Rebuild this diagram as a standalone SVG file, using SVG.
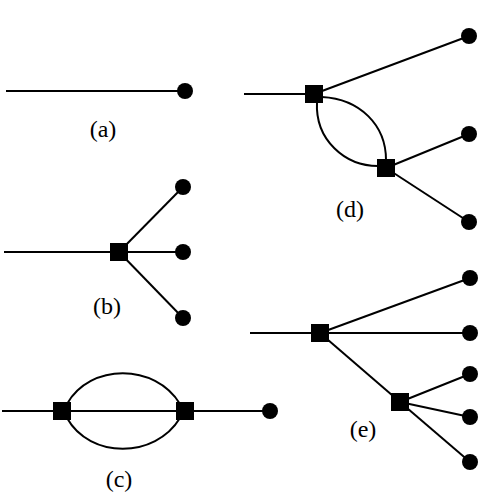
<svg xmlns="http://www.w3.org/2000/svg" width="484" height="499" viewBox="0 0 484 499">
<style>
.e{stroke:#000;stroke-width:2;fill:none}
.d{fill:#000}
.s{fill:#000}
.t{font-family:"Liberation Serif",serif;font-size:24px;fill:#000;text-anchor:middle}
</style>
<rect width="484" height="499" fill="#fff"/>
<g id="connectors">
<line class="e" x1="6" y1="91" x2="185" y2="91"/>
<line class="e" x1="4" y1="252" x2="183" y2="252"/>
<line class="e" x1="119" y1="252" x2="183" y2="187"/>
<line class="e" x1="119" y1="252" x2="183" y2="318"/>
<line class="e" x1="2" y1="411" x2="270" y2="411"/>
<path class="e" d="M67,404 C90,363 155,363 180,404"/>
<path class="e" d="M67,418 C90,459 155,459 180,418"/>
<line class="e" x1="244" y1="94" x2="314" y2="94"/>
<line class="e" x1="314" y1="94" x2="469" y2="36"/>
<path class="e" d="M322,97 C360,99 386,125 386,160"/>
<path class="e" d="M317,102 C315,140 345,166 378,166"/>
<line class="e" x1="386" y1="168" x2="469" y2="134"/>
<line class="e" x1="386" y1="168" x2="469" y2="222"/>
<line class="e" x1="250" y1="333" x2="470" y2="333"/>
<line class="e" x1="320" y1="333" x2="470" y2="278"/>
<line class="e" x1="320" y1="333" x2="400" y2="402"/>
<line class="e" x1="400" y1="402" x2="470" y2="374"/>
<line class="e" x1="400" y1="402" x2="470" y2="417"/>
<line class="e" x1="400" y1="402" x2="470" y2="462"/>
</g>
<g id="a">
<circle id="a-dot" class="d" cx="185" cy="91" r="8"/>
<text class="t" x="103" y="137">(a)</text>
</g>
<g id="b">
<rect id="b-sq" class="s" x="110" y="243" width="18" height="18"/>
<circle class="d" cx="183" cy="187" r="8"/>
<circle class="d" cx="183" cy="252" r="8"/>
<circle class="d" cx="183" cy="318" r="8"/>
<text class="t" x="107" y="314">(b)</text>
</g>
<g id="c">
<rect class="s" x="53" y="402" width="18" height="18"/>
<rect class="s" x="176" y="402" width="18" height="18"/>
<circle class="d" cx="270" cy="411" r="8"/>
<text class="t" x="119" y="487">(c)</text>
</g>
<g id="d">
<rect class="s" x="305" y="85" width="18" height="18"/>
<rect class="s" x="377" y="159" width="18" height="18"/>
<circle class="d" cx="469" cy="36" r="8"/>
<circle class="d" cx="469" cy="134" r="8"/>
<circle class="d" cx="469" cy="222" r="8"/>
<text class="t" x="350" y="217">(d)</text>
</g>
<g id="e">
<rect class="s" x="311" y="324" width="18" height="18"/>
<rect class="s" x="391" y="393" width="18" height="18"/>
<circle class="d" cx="470" cy="278" r="8"/>
<circle class="d" cx="470" cy="333" r="8"/>
<circle class="d" cx="470" cy="374" r="8"/>
<circle class="d" cx="470" cy="417" r="8"/>
<circle class="d" cx="470" cy="462" r="8"/>
<text class="t" x="363" y="437">(e)</text>
</g>
</svg>
